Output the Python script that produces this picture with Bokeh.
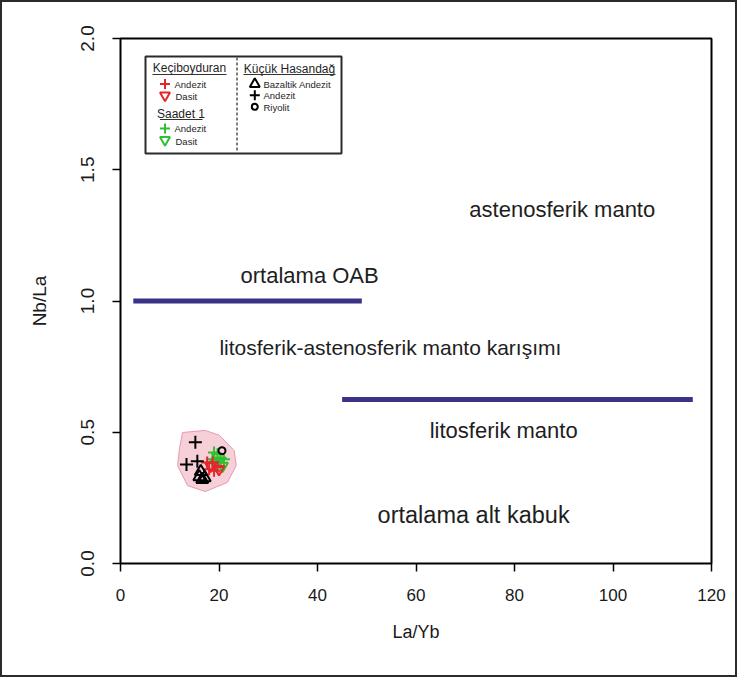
from bokeh.plotting import figure
from bokeh.models import FixedTicker, PrintfTickFormatter, Range1d, ColumnDataSource
from bokeh.core.properties import value
from bokeh.embed import file_html
from bokeh.resources import INLINE

FONT = "Liberation Sans"

# ---------------- data ----------------
x_ticks = [0, 20, 40, 60, 80, 100, 120]
y_ticks = [0.0, 0.5, 1.0, 1.5, 2.0]

# reference lines
oab_x = [2.6, 49.0]
oab_y = [1.0, 1.0]
lito_x = [45.0, 116.2]
lito_y = [0.625, 0.625]

# field labels
field_labels = ["astenosferik manto", "ortalama OAB",
                "litosferik-astenosferik manto karışımı",
                "litosferik manto", "ortalama alt kabuk"]
field_x = [89.7, 38.4, 54.8, 77.8, 71.7]
field_y = [1.349, 1.097, 0.823, 0.507, 0.183]
field_size = ["22px", "22px", "21px", "22px", "23.5px"]

# pink envelope around samples
env_x = [12.6, 17.2, 20.1, 23.1, 23.5, 21.7, 17.2, 13.6, 11.6, 12.0]
env_y = [0.499, 0.507, 0.488, 0.430, 0.373, 0.309, 0.274, 0.297, 0.373, 0.442]

# Keçiboyduran
kec_andezit_x = [17.6, 18.7, 18.0, 19.7, 19.0]
kec_andezit_y = [0.385, 0.385, 0.359, 0.368, 0.353]
kec_dasit_x = [20.0, 18.3]
kec_dasit_y = [0.359, 0.372]
# Saadet 1
saa_andezit_x = [19.0, 19.7, 20.3, 18.7, 21.0]
saa_andezit_y = [0.423, 0.416, 0.403, 0.397, 0.397]
saa_dasit_x = [19.3, 20.7, 20.0]
saa_dasit_y = [0.378, 0.372, 0.391]
# Küçük Hasandağ
kh_bazalt_x = [16.0, 16.6, 17.1, 16.3]
kh_bazalt_y = [0.330, 0.320, 0.327, 0.350]
kh_andezit_x = [15.2, 13.4, 15.6]
kh_andezit_y = [0.462, 0.377, 0.390]
kh_riyolit_x = [20.6]
kh_riyolit_y = [0.430]

RED = "#e3262b"
GREEN = "#2fbf2f"
BLUE = "#3a3287"

# ---------------- layout ----------------
W, H = 737, 677
BL, BR, BT, BB = 118, 28, 36, 116
FW = W - BL - BR
FH = H - BT - BB
OX = 10 + BL
OY = 10 + BT + FH


def dx(px):
    return (px - OX) / FW * 120.0


def dy(py):
    return (OY - py) / FH * 2.0


p = figure(width=W, height=H, x_range=Range1d(0, 120), y_range=Range1d(0, 2),
           output_backend="svg", toolbar_location=None,
           min_border_left=BL, min_border_right=BR, min_border_top=BT,
           min_border_bottom=BB)
p.styles = {"border": "2px solid #2b2b2b"}
p.background_fill_color = "white"
p.border_fill_color = "white"
p.outline_line_color = "black"
p.outline_line_width = 2
p.xgrid.visible = False
p.ygrid.visible = False

for ax in (p.xaxis[0], p.yaxis[0]):
    ax.axis_line_color = None
    ax.major_tick_in = 0
    ax.major_tick_out = 8
    ax.major_tick_line_color = "black"
    ax.major_tick_line_width = 1.5
    ax.minor_tick_line_color = None
    ax.major_label_text_font = FONT
    ax.major_label_text_color = "#1a1a1a"
    ax.axis_label_text_font = FONT
    ax.axis_label_text_font_style = "normal"
    ax.axis_label_text_color = "#1a1a1a"

p.xaxis.ticker = FixedTicker(ticks=x_ticks)
p.yaxis.ticker = FixedTicker(ticks=y_ticks)
p.yaxis.formatter = PrintfTickFormatter(format="%.1f")
p.xaxis.major_label_text_font_size = "17px"
p.yaxis.major_label_text_font_size = "19px"
p.yaxis.major_label_orientation = "vertical"
p.xaxis.major_label_standoff = 17
p.yaxis.major_label_standoff = 19
p.xaxis.axis_label = "La/Yb"
p.yaxis.axis_label = "Nb/La"
p.xaxis.axis_label_text_font_size = "18px"
p.yaxis.axis_label_text_font_size = "19px"
p.xaxis.axis_label_standoff = 18
p.yaxis.axis_label_standoff = 28

# envelope
p.patch(env_x, env_y, fill_color="#f7cfd8", line_color="#e79aab", line_width=1)

# reference lines
p.line(oab_x, oab_y, line_color=BLUE, line_width=5)
p.line(lito_x, lito_y, line_color=BLUE, line_width=5)

# field labels
lab_src = ColumnDataSource(dict(x=field_x, y=field_y, t=field_labels, s=field_size))
p.text(x="x", y="y", text="t", text_font_size="s", source=lab_src,
       text_font=value(FONT), text_color="#1e1e1e", text_align="center",
       text_baseline="middle")

# samples
p.scatter(saa_andezit_x, saa_andezit_y, marker="cross", size=12, line_width=2,
          line_color=GREEN)
p.scatter(saa_dasit_x, saa_dasit_y, marker="inverted_triangle", size=11,
          line_width=2, line_color=GREEN, fill_color=None)
p.scatter(kec_andezit_x, kec_andezit_y, marker="cross", size=12, line_width=2,
          line_color=RED)
p.scatter(kec_dasit_x, kec_dasit_y, marker="inverted_triangle", size=11,
          line_width=2, line_color=RED, fill_color=None)
p.scatter(kh_bazalt_x, kh_bazalt_y, marker="triangle", size=12, line_width=2,
          line_color="black", fill_color=None)
p.scatter(kh_andezit_x, kh_andezit_y, marker="cross", size=13, line_width=2,
          line_color="black")
p.scatter(kh_riyolit_x, kh_riyolit_y, marker="circle", size=7, line_width=2,
          line_color="black", fill_color=None)

# ---------------- hand-made legend ----------------
p.quad(left=[dx(153)], right=[dx(349)], top=[dy(64)], bottom=[dy(161)],
       fill_color="white", line_color="#2b2b2b", line_width=2)
p.segment(x0=[dx(244.5)], y0=[dy(65)], x1=[dx(244.5)], y1=[dy(160)],
          line_color="#555555", line_width=1.5, line_dash="3 2")

hdr_txt = ["Keçiboyduran", "Saadet 1", "Küçük Hasandağ"]
hdr_px = [197, 188.5, 297]
hdr_py = [75.5, 121, 76]
p.text(x=[dx(v) for v in hdr_px], y=[dy(v) for v in hdr_py], text=hdr_txt,
       text_font=value(FONT), text_font_size="12px", text_color="#1e1e1e",
       text_align="center", text_baseline="middle")
ul_x0 = [160, 167.5, 251]
ul_x1 = [234, 210, 343]
ul_y = [82, 127, 82]
p.segment(x0=[dx(v) for v in ul_x0], y0=[dy(v) for v in ul_y],
          x1=[dx(v) for v in ul_x1], y1=[dy(v) for v in ul_y],
          line_color="#333333", line_width=1)

item_txt = ["Andezit", "Dasit", "Andezit", "Dasit",
            "Bazaltik Andezit", "Andezit", "Riyolit"]
item_tx = [182, 183, 182, 183, 271, 271, 271]
item_ty = [91.5, 104, 136, 148.5, 91.5, 103, 114.5]
p.text(x=[dx(v) for v in item_tx], y=[dy(v) for v in item_ty], text=item_txt,
       text_font=value(FONT), text_font_size="9.5px", text_color="#1e1e1e",
       text_align="left", text_baseline="middle")

p.scatter([dx(172.5)], [dy(91.5)], marker="cross", size=10, line_width=2, line_color=RED)
p.scatter([dx(172.5)], [dy(103)], marker="inverted_triangle", size=10, line_width=2,
          line_color=RED, fill_color=None)
p.scatter([dx(172.5)], [dy(136)], marker="cross", size=10, line_width=2, line_color=GREEN)
p.scatter([dx(172.5)], [dy(147.5)], marker="inverted_triangle", size=10, line_width=2,
          line_color=GREEN, fill_color=None)
p.scatter([dx(262.3)], [dy(91.5)], marker="triangle", size=10, line_width=2,
          line_color="black", fill_color=None)
p.scatter([dx(262.3)], [dy(102.7)], marker="cross", size=10, line_width=2,
          line_color="black")
p.scatter([dx(262.3)], [dy(114.3)], marker="circle", size=6, line_width=2,
          line_color="black", fill_color=None)

open("out.html", "w").write(file_html(p, INLINE))
